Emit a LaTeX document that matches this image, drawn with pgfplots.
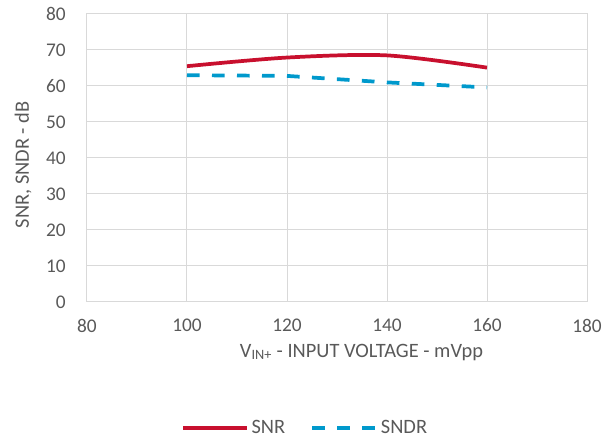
\documentclass[border=0pt]{standalone}
\usepackage{fontspec}
\setmainfont{Carlito}
\usepackage{pgfplots}
\pgfplotsset{compat=1.18}
\definecolor{snr}{RGB}{200,16,46}
\definecolor{sndr}{RGB}{0,153,204}
\definecolor{txt}{RGB}{89,89,89}
\definecolor{grd}{RGB}{217,217,217}
\begin{document}
\begin{tikzpicture}
\begin{axis}[
  scale only axis, width=375pt, height=216pt,
  clip=false,
  xmin=80, xmax=180, ymin=0, ymax=80,
  xtick={80,100,...,180}, ytick={0,10,...,80},
  grid=major, grid style={grd, line width=0.75pt},
  axis line style={grd, line width=0.75pt},
  major tick length=0pt,
  /pgf/number format/assume math mode=true,
  tick label style={font=\fontsize{14.5}{16}\selectfont, text=txt, inner sep=0pt},
  yticklabel style={anchor=east, xshift=-15.75pt},
  xticklabel style={anchor=north, yshift=-12.5pt},
  xlabel={V\textsubscript{IN+} - INPUT VOLTAGE - mVpp},
  ylabel={SNR, SNDR - dB},
  label style={font=\fontsize{15.3}{17}\selectfont, text=txt},
  xlabel style={at={(0.549,-0.174)}, anchor=center},
  ylabel style={at={(-0.128,0.476)}, anchor=center},
  legend columns=2,
  legend style={at={(0.437,-0.4375)}, anchor=center, draw=none, fill=none,
    font=\fontsize{15.3}{17}\selectfont, text=txt,
    /tikz/every even column/.append style={column sep=17pt}},
  legend image code/.code={\draw[#1] (0pt,0pt) -- (48pt,0pt);},
]
\addplot[snr, line width=2.8pt, smooth] coordinates {
  (100,65.5) (120,67.9) (140,68.5) (160,65.1)};
\addlegendentry{SNR}
\addplot[sndr, line width=2.8pt, dash pattern=on 9.5pt off 9.25pt] coordinates {
  (100,63.0) (120,62.8) (140,61.0) (160,59.6)};
\addlegendentry{SNDR}
\path (rel axis cs:-0.174,-0.4792) rectangle (rel axis cs:1.058,1.0486);
\end{axis}
\end{tikzpicture}
\end{document}
